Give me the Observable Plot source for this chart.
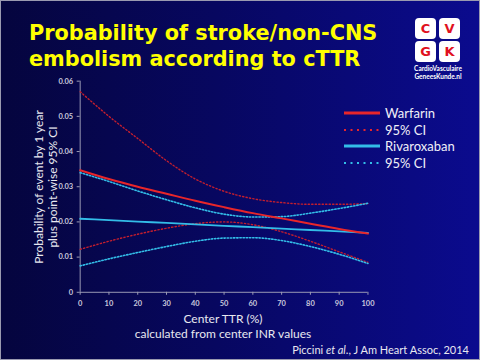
<!DOCTYPE html>
<html><head><meta charset="utf-8">
<script src="https://cdn.jsdelivr.net/npm/d3@7"></script>
<script src="https://cdn.jsdelivr.net/npm/@observablehq/plot@0.6"></script>
<style>
html,body{margin:0;padding:0;}
#slide{position:relative;width:480px;height:360px;overflow:hidden;box-sizing:border-box;border:1px solid #9a9ab0;
background:linear-gradient(to right,#05053e 0%,#070760 45%,#0b0b8e 100%);font-family:Lato,"Open Sans",sans-serif;}
#title{position:absolute;left:28px;top:19px;color:#ffff00;font-family:"DejaVu Sans",Verdana,sans-serif;font-weight:bold;font-size:20.8px;line-height:26px;white-space:nowrap;}
#plot{position:absolute;left:0;top:0;}
.ylab{position:absolute;color:#e8e8f0;font-size:12px;white-space:nowrap;transform:translate(-50%,-50%) rotate(-90deg);}
.xlab{position:absolute;color:#e8e8f0;font-size:12px;white-space:nowrap;transform:translateX(-50%);}
#legend{position:absolute;left:342px;top:104px;color:#f0f0f8;font-size:13px;}
#legend div{height:16.5px;display:flex;align-items:center;}
#legend svg{margin-right:5px;}
#caption{position:absolute;right:10px;top:342px;color:#e8e8f0;font-size:11px;white-space:nowrap;}
#logo{position:absolute;left:413px;top:16px;width:48px;}
.cell{position:absolute;width:21px;height:21px;background:#fff;border-radius:4px;color:#e01020;font-family:"DejaVu Sans",sans-serif;font-weight:bold;font-size:13px;text-align:center;line-height:21px;}
.ltxt{position:absolute;left:-4px;width:56px;text-align:center;color:#fff;font-size:6.5px;font-weight:bold;white-space:nowrap;}
</style></head>
<body>
<div id="slide">
<div id="title">Probability of stroke/non-CNS<br>embolism according to cTTR</div>
<div id="logo">
 <div class="cell" style="left:1px;top:1px">C</div>
 <div class="cell" style="left:25px;top:1px">V</div>
 <div class="cell" style="left:1px;top:24px">G</div>
 <div class="cell" style="left:25px;top:24px">K</div>
 <div class="ltxt" style="top:48px">CardioVasculaire</div>
 <div class="ltxt" style="top:56px">GeneesKunde.nl</div>
</div>
<div id="plot"></div>
<div class="ylab" style="left:37px;top:186px">Probability of event by 1 year</div>
<div class="ylab" style="left:51px;top:186px">plus point-wise 95% CI</div>
<div class="xlab" style="left:222px;top:310px">Center TTR (%)</div>
<div class="xlab" style="left:222px;top:325px">calculated from center INR values</div>
<div id="legend"></div>
<div id="caption">Piccini <i>et al</i>., J Am Heart Assoc, 2014</div>
</div>
<script>
const ttr = [0,10,20,30,40,50,60,70,80,90,100];
const warfarin      = [0.0347,0.0322,0.0300,0.0280,0.0260,0.0242,0.0225,0.0210,0.0195,0.0180,0.0167];
const warfarinUpper = [0.0570,0.0500,0.0437,0.0374,0.0322,0.0287,0.0266,0.0255,0.0250,0.0250,0.0252];
const warfarinLower = [0.0122,0.0145,0.0165,0.0182,0.0195,0.0200,0.0192,0.0172,0.0145,0.0115,0.0085];
const rivaroxaban      = [0.0209,0.0205,0.0201,0.0197,0.0193,0.0189,0.0185,0.0181,0.0177,0.0173,0.0169];
const rivaroxabanUpper = [0.0340,0.0315,0.0288,0.0263,0.0240,0.0222,0.0214,0.0215,0.0225,0.0238,0.0253];
const rivaroxabanLower = [0.0075,0.0095,0.0113,0.0130,0.0145,0.0154,0.0155,0.0147,0.0130,0.0108,0.0082];
const yTicks = [0,0.01,0.02,0.03,0.04,0.05,0.06];
const xTicks = [0,10,20,30,40,50,60,70,80,90,100];
const legendLabels = ["Warfarin","95% CI","Rivaroxaban","95% CI"];

const RED = "#e8262a", DRED = "#c41e2e", BLUE = "#33bde8";
const series = (vals) => ttr.map((t,i)=>({x:t,y:vals[i]}));
const curve = "monotone-x";
const chart = Plot.plot({
  width:480, height:360,
  marginLeft:79, marginRight:112, marginTop:80, marginBottom:68,
  style:{background:"transparent", color:"#c8c8dc", fontFamily:"Lato, sans-serif"},
  x:{domain:[0,100]}, y:{domain:[0,0.06]},
  marks:[
    Plot.ruleX([0],{stroke:"#9a9ab4",strokeWidth:1}),
    Plot.ruleY([0],{stroke:"#9a9ab4",strokeWidth:1}),
    Plot.axisY({ticks:yTicks, tickFormat:d=>d===0?"0":d.toFixed(2), tickSize:3, tickPadding:4, fontSize:7.5, fontWeight:"bold", stroke:"#9a9ab4", label:null}),
    Plot.axisX({ticks:xTicks, tickSize:3, tickPadding:5, fontSize:7.5, fontWeight:"bold", stroke:"#9a9ab4", label:null}),
    Plot.line(series(warfarinUpper),{x:"x",y:"y",curve,stroke:DRED,strokeWidth:1.4,strokeDasharray:"1.3,2.2"}),
    Plot.line(series(warfarinLower),{x:"x",y:"y",curve,stroke:DRED,strokeWidth:1.4,strokeDasharray:"1.3,2.2"}),
    Plot.line(series(rivaroxabanUpper),{x:"x",y:"y",curve,stroke:BLUE,strokeWidth:1.6,strokeDasharray:"1.4,1.8"}),
    Plot.line(series(rivaroxabanLower),{x:"x",y:"y",curve,stroke:BLUE,strokeWidth:1.6,strokeDasharray:"1.4,1.8"}),
    Plot.line(series(rivaroxaban),{x:"x",y:"y",curve,stroke:BLUE,strokeWidth:1.8}),
    Plot.line(series(warfarin),{x:"x",y:"y",curve,stroke:RED,strokeWidth:2}),
  ]
});
document.getElementById("plot").appendChild(chart);

const styles = [
  {c:RED,w:3,d:null},{c:RED,w:2.2,d:"2,4.5"},{c:BLUE,w:3,d:null},{c:BLUE,w:2.2,d:"2,4.5"}
];
const leg = document.getElementById("legend");
legendLabels.forEach((lab,i)=>{
  const s = styles[i];
  const row = document.createElement("div");
  row.innerHTML = `<svg width="37" height="6"><line x1="1" y1="3" x2="37" y2="3" stroke="${s.c}" stroke-width="${s.w}" ${s.d?`stroke-dasharray="${s.d}"`:""}/></svg><span>${lab}</span>`;
  leg.appendChild(row);
});
</script>
</body></html>
